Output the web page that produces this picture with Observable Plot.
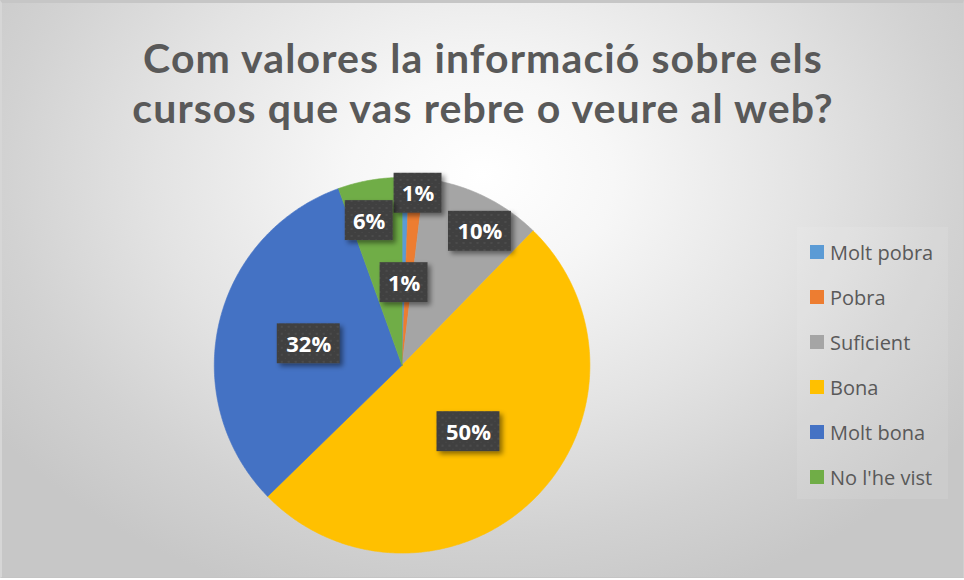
<!DOCTYPE html>
<html>
<head>
<meta charset="utf-8">
<script src="https://cdn.jsdelivr.net/npm/d3@7"></script>
<script src="https://cdn.jsdelivr.net/npm/@observablehq/plot@0.6"></script>
<style>
  html, body { margin: 0; padding: 0; background: #ffffff; }
  #chart {
    position: relative; width: 964px; height: 578px; overflow: hidden;
    box-sizing: border-box;
    border-top: 3px solid #c6c6c6; border-left: 2px solid #d6d6d6; border-right: 1px solid #cfcfcf; border-bottom: 1px solid #c4c4c4;
    background: radial-gradient(ellipse 62% 78% at 50% 30%, #ffffff 0%, #f7f7f7 22%, #e3e3e3 55%, #d2d2d2 80%, #c7c7c7 100%);
  }
  #title {
    position: absolute; left: 0; top: 30px; width: 962px; text-align: center;
    font-family: Lato, "Open Sans", sans-serif; font-weight: bold; color: #595959;
    font-size: 41px; line-height: 49.5px; white-space: nowrap; letter-spacing: 1.1px;
  }
  #plot { position: absolute; left: -2px; top: 147px; }
  #legend {
    position: absolute; left: 795px; top: 224px; width: 151px; height: 272px;
    background: rgba(255,255,255,0.09);
    font-family: "Open Sans", sans-serif; font-size: 20px; color: #595959;
  }
  .row { position: absolute; left: 0; height: 45px; display: flex; align-items: center; white-space: nowrap; }
  .sw { width: 14px; height: 14px; margin-left: 13px; margin-right: 6px; }
</style>
</head>
<body>
<div id="chart">
  <div id="title"></div>
  <div id="plot"></div>
  <div id="legend"></div>
</div>
<script>
// ---- data ----
const titleLines = ["Com valores la informació sobre els", "cursos que vas rebre o veure al web?"];
const categories = ["Molt pobra", "Pobra", "Suficient", "Bona", "Molt bona", "No l'he vist"];
const percents = [0.6, 1.3, 10.4, 50.4, 31.8, 5.5];
const colors = ["#5B9BD5", "#ED7D31", "#A5A5A5", "#FFC000", "#4472C4", "#70AD47"];
// label placement (fraction of radius, angular nudge in degrees) - layout only
const labelRadius = [0.44, 0.92, 0.825, 0.50, 0.51, 0.79];
const labelNudge = [0.3, 0.8, 4.6, 0, 0, -2.9];

// ---- title ----
const titleEl = document.getElementById("title");
titleEl.innerHTML = titleLines.map(t => `<div>${t}</div>`).join("");

// ---- pie geometry in data units (pixels relative to centre) ----
const R = 188;
const total = d3.sum(percents);
const slices = [];
const pts = [];
let acc = 0;
categories.forEach((name, i) => {
  const a0 = acc / total * 2 * Math.PI;
  acc += percents[i];
  const a1 = acc / total * 2 * Math.PI;
  slices.push({name, value: percents[i], a0, a1, i});
  pts.push({name, x: 0, y: 0});
  const n = Math.max(2, Math.ceil((a1 - a0) / (Math.PI / 360)));
  for (let k = 0; k <= n; k++) {
    const a = a0 + (a1 - a0) * k / n;
    pts.push({name, x: R * Math.sin(a), y: R * Math.cos(a)});
  }
  pts.push({name, x: 0, y: 0});
});

const labels = slices.map(s => {
  const mid = (s.a0 + s.a1) / 2 + labelNudge[s.i] * Math.PI / 180;
  const r = labelRadius[s.i] * R;
  const text = Math.round(s.value) + "%";
  const w = 18 + 15 * text.length;
  const h = 40;
  const x = r * Math.sin(mid), y = r * Math.cos(mid);
  return {name: s.name, text, x, y, x1: x - w / 2, x2: x + w / 2, y1: y - h / 2, y2: y + h / 2};
});

const cx = 402, cy = 215;
const plot = Plot.plot({
  width: 964,
  height: 430,
  margin: 0,
  style: {background: "transparent", overflow: "visible"},
  x: {domain: [-R, R], range: [cx - R, cx + R], axis: null},
  y: {domain: [-R, R], range: [cy + R, cy - R], axis: null},
  color: {domain: categories, range: colors},
  marks: [
    Plot.line(pts, {x: "x", y: "y", z: "name", fill: "name", stroke: "name", strokeWidth: 0.6, curve: "linear"}),
    Plot.rect(labels, {x1: "x1", x2: "x2", y1: "y1", y2: "y2", fill: "#404040"}),
    Plot.text(labels, {x: "x", y: "y", text: "text", fill: "white", fontSize: 22, fontWeight: "bold", fontFamily: "'Open Sans', sans-serif", dy: 1})
  ]
});

// pattern + shadow on label boxes
const ns = "http://www.w3.org/2000/svg";
const defs = document.createElementNS(ns, "defs");
defs.innerHTML = `
  <pattern id="lblpat" width="7" height="7" patternUnits="userSpaceOnUse">
    <rect width="7" height="7" fill="#404040"></rect>
    <circle cx="2" cy="2" r="0.9" fill="#515151"></circle>
    <circle cx="5.5" cy="5.5" r="0.7" fill="#4a4a4a"></circle>
  </pattern>
  <filter id="shadow" x="-30%" y="-30%" width="160%" height="170%">
    <feDropShadow dx="3" dy="3" stdDeviation="2.5" flood-color="#000" flood-opacity="0.45"></feDropShadow>
  </filter>`;
plot.insertBefore(defs, plot.firstChild);
plot.querySelectorAll('g[aria-label="rect"] rect').forEach(r => {
  r.setAttribute("fill", "url(#lblpat)");
  r.setAttribute("filter", "url(#shadow)");
});
document.getElementById("plot").appendChild(plot);

// ---- legend ----
const legend = document.getElementById("legend");
categories.forEach((name, i) => {
  const row = document.createElement("div");
  row.className = "row";
  row.style.top = (2.5 + 45 * i) + "px";
  row.innerHTML = `<span class="sw" style="background:${colors[i]}"></span><span>${name}</span>`;
  legend.appendChild(row);
});
</script>
</body>
</html>
